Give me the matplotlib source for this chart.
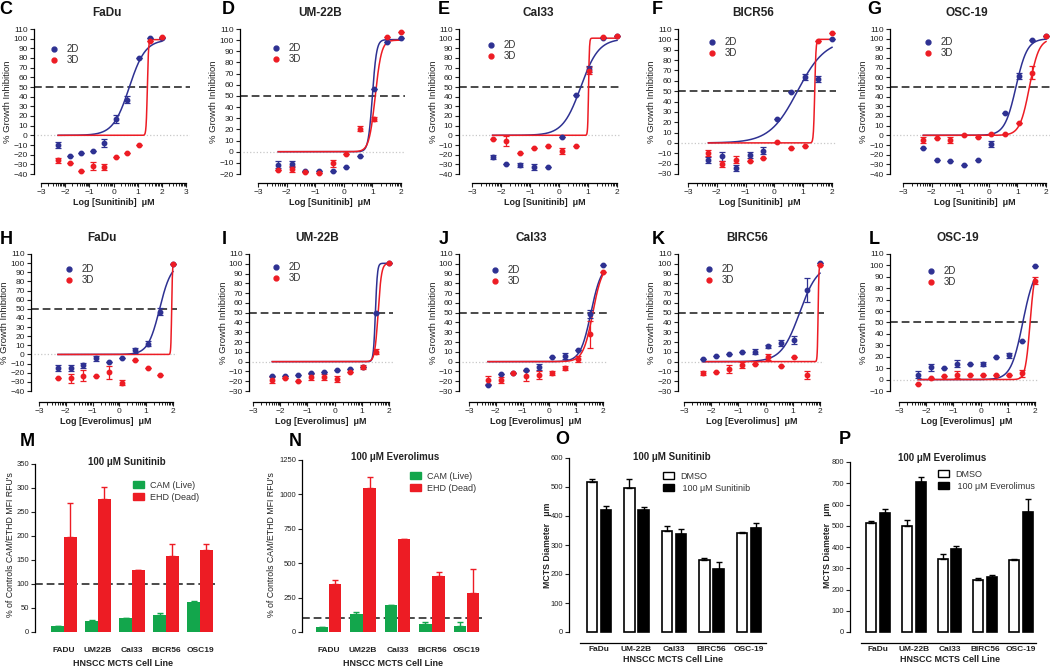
import numpy as np
import matplotlib
matplotlib.use("Agg")
import matplotlib.pyplot as plt
from matplotlib.lines import Line2D
from matplotlib.patches import Patch

plt.rcParams.update({"font.family": ["Liberation Sans", "DejaVu Sans"]})

W, H = 1050, 669
BLUE = "#2E3192"; RED = "#ED1C24"; GREEN = "#13A64C"; INK = "#222222"; DASH = "#4a4a4a"

# ---- dose-response data (log10 dose, uM) ----
LOG_DOSE = [-2.29, -1.82, -1.34, -0.86, -0.39, 0.09, 0.57, 1.05, 1.52, 2.0]

C_2D = [-10.3, -21.7, -18.6, -16.5, -7.6, 17, 37, 80, 101, 101]
C_2D_ERR = [3, 0, 0, 0, 4, 4, 4, 0, 0, 0]
C_3D = [-26, -29, -37, -32, -33, -22, -18, -10, 98, 102]
C_3D_ERR = [3, 0, 0, 4, 3, 0, 0, 0, 0, 0]

D_2D = [-11.7, -11, -17.7, -17.7, -17.7, -14.1, -3.6, 56.5, 98, 101.5]
D_2D_ERR = [3, 3, 0, 0, 0, 0, 0, 0, 0, 0]
D_3D = [-16.5, -15.6, -18.6, -18.9, -10.5, -2, 20.7, 29.4, 102.4, 107]
D_3D_ERR = [0, 3, 0, 0, 3, 0, 2, 2, 0, 0]

E_2D = [-22.6, -29.5, -30.9, -33, -32.3, -2, 41.3, 68.8, 101, 103]
E_2D_ERR = [2, 0, 2, 3, 0, 0, 0, 3, 0, 0]
E_3D = [-3.5, -6.2, -18, -13.2, -11.1, -16, -11.1, 67, 102, 103]
E_3D_ERR = [0, 5, 0, 0, 0, 3, 0, 4, 0, 0]

F_2D = [-16.5, -13, -24, -11.7, -7.4, 23, 49, 64, 61.5, 100]
F_2D_ERR = [3, 4, 3, 3, 3, 0, 0, 3, 3, 0]
F_3D = [-10, -20, -16, -17, -15, 1.3, -5, -3.2, 98, 106.5]
F_3D_ERR = [3, 3, 3, 0, 0, 0, 0, 0, 0, 0]

G_2D = [-13, -25, -27, -30.6, -25, -8.6, 23, 61.5, 98.6, 103]
G_2D_ERR = [0, 0, 0, 0, 0, 3, 0, 3, 0, 0]
G_3D = [-5, -2.4, -4.8, 0.7, -1.4, 1.7, 1.4, 12.4, 65, 102.4]
G_3D_ERR = [3, 0, 3, 0, 0, 0, 0, 0, 7, 0]

H_2D = [-14.8, -14.8, -11.8, -4.4, -8.5, -3.7, 4.4, 11.8, 47, 99]
H_2D_ERR = [3, 3, 3, 3, 0, 0, 3, 3, 4, 0]
H_3D = [-26.3, -26, -23.3, -23.3, -19.6, -30.7, -5.6, -14.8, -23, 99]
H_3D_ERR = [0, 5, 6, 0, 7, 3, 0, 0, 0, 0]

I_2D = [-15, -14.8, -14, -12, -10.7, -9, -7.2, -5.8, 50, 100.7]
I_2D_ERR = [0, 0, 0, 0, 0, 0, 0, 0, 0, 0]
I_3D = [-19, -17, -20, -16, -15.5, -18, -10.7, -5.8, 10.3, 100.3]
I_3D_ERR = [3, 0, 0, 3, 3, 3, 0, 2, 3, 0]

J_2D = [-23.7, -12.7, -11.7, -8.6, -5.2, 4.5, 5.5, 12, 49, 98.6]
J_2D_ERR = [0, 0, 0, 0, 3, 0, 3, 0, 4, 0]
J_3D = [-18.6, -18.6, -11.7, -15, -13.7, -12, -6.9, 3, 28, 91.4]
J_3D_ERR = [4, 3, 0, 5, 4, 2, 2, 3, 14, 0]

K_2D = [2.4, 5.5, 7.6, 10, 10.3, 15.5, 19, 22, 73, 100.7]
K_2D_ERR = [0, 0, 0, 0, 3, 2, 3, 4, 12, 0]
K_3D = [-11.3, -11, -7.6, -3.4, -2, 4.5, -4, 4.5, -13.7, 99]
K_3D_ERR = [2, 0, 4, 3, 0, 3, 0, 0, 4, 0]

L_2D = [4.4, 10.9, 10.3, 13.8, 13.8, 13.8, 19.6, 21.1, 33.4, 99.4]
L_2D_ERR = [3, 3, 0, 3, 0, 2, 0, 2, 0, 0]
L_3D = [-3.8, 1.2, 2.9, 4.4, 4.4, 4.4, 3.8, 3.8, 5.6, 86.5]
L_3D_ERR = [0, 0, 0, 3, 0, 0, 0, 0, 3, 3]

# fitted curve parameters: (logEC50, Hill slope, top)
FIT_2D = {"C": (0.65, 1.3, 99), "D": (1.0, 6, 100.5), "E": (0.75, 1.4, 100),
          "F": (0.8, 0.9, 100), "G": (0.95, 2.2, 100), "H": (1.5, 2.0, 100),
          "I": (1.5, 12, 100.5), "J": (1.55, 2.2, 100), "K": (1.25, 1.3, 100),
          "L": (1.55, 2.0, 100)}
FIT_3D = {"C": (1.4, 18, 99), "D": (1.1, 4, 100), "E": (1.02, 30, 100.5),
          "F": (1.4, 20, 100), "G": (1.42, 2.6, 100), "H": (1.95, 30, 100),
          "I": (1.6, 7, 100.5), "J": (1.62, 2.4, 100), "K": (1.93, 30, 100),
          "L": (1.82, 5, 100)}

# ---- bar chart data ----
LINES_MN = ["FADU", "UM22B", "Cal33", "BICR56", "OSC19"]
LINES_OP = ["FaDu", "UM-22B", "Cal33", "BIRC56", "OSC-19"]
M_CAM = [12, 23, 30, 35, 62]; M_CAM_ERR = [1, 1, 0, 5, 3]
M_EHD = [197, 278, 129, 159, 170]; M_EHD_ERR = [72, 24, 0, 25, 13]
N_CAM = [35, 130, 195, 55, 45]; N_CAM_ERR = [4, 12, 0, 15, 28]
N_EHD = [348, 1045, 675, 405, 280]; N_EHD_ERR = [32, 80, 0, 30, 175]
O_DMSO = [517, 497, 347, 247, 340]; O_DMSO_ERR = [10, 30, 18, 8, 4]
O_DRUG = [420, 420, 337, 216, 360]; O_DRUG_ERR = [13, 12, 18, 25, 17]
P_DMSO = [515, 497, 345, 247, 340]; P_DMSO_ERR = [8, 28, 20, 5, 3]
P_DRUG = [558, 705, 392, 258, 565]; P_DRUG_ERR = [22, 25, 13, 12, 60]

fig = plt.figure(figsize=(W / 100, H / 100), dpi=100)


def px_axes(left, right, top, bottom):
    return fig.add_axes([left / W, 1 - bottom / H, (right - left) / W, (bottom - top) / H])


def ftext(x, y, s, **kw):
    fig.text(x / W, 1 - y / H, s, **kw)


def hill(x, logec50, slope, top):
    return top / (1 + 10 ** ((logec50 - x) * slope))


def dr_panel(key, title, title_x, drug, spine, x0, x1, xmax, ytop, ybot, ymin, xaxis,
             y2d, e2d, y3d, e3d, leg_x, leg_y):
    ppx = (x1 - x0) / (xmax + 3)
    ppy = (ybot - ytop) / (110 - ymin)
    ax = px_axes(spine, x1 + 4, ytop - 4, xaxis)
    ax.set_xlim(-3 - (x0 - spine) / ppx, xmax + 4 / ppx)
    ax.set_ylim(ymin - (xaxis - ybot) / ppy, 110 + 4 / ppy)
    for s in ("top", "right"):
        ax.spines[s].set_visible(False)
    ax.spines["left"].set_bounds(ymin, 110)
    ax.spines["bottom"].set_bounds(-3, xmax)
    for s in ("left", "bottom"):
        ax.spines[s].set_linewidth(0.9)
    ax.set_yticks(np.arange(ymin, 111, 10))
    ax.set_xticks(np.arange(-3, xmax + 1, 1))
    minors = [k + np.log10(m) for k in range(-3, xmax) for m in range(2, 10)]
    ax.set_xticks(minors, minor=True)
    ax.tick_params(axis="both", which="major", direction="out", length=3, width=0.8,
                   labelsize=6, pad=1.5, colors=INK)
    ax.tick_params(axis="x", which="minor", direction="out", length=1.8, width=0.6)
    ax.axhline(50, color=DASH, ls=(0, (4, 2)), lw=1.4, zorder=1)
    ax.axhline(0, xmin=0.02, color="#c8c8c8", ls=":", lw=0.9, zorder=1)

    xs = np.linspace(LOG_DOSE[0], LOG_DOSE[-1], 500)
    ax.plot(xs, hill(xs, *FIT_2D[key]), color=BLUE, lw=1.1, zorder=3)
    ax.plot(xs, hill(xs, *FIT_3D[key]), color=RED, lw=1.1, zorder=4)
    for ys, es, c in ((y2d, e2d, BLUE), (y3d, e3d, RED)):
        ax.errorbar(LOG_DOSE, ys, yerr=es, fmt="o", ms=3.2, color=c, ecolor=c,
                    elinewidth=0.9, capsize=2, capthick=0.9, zorder=5)
    handles = [Line2D([], [], marker="o", ls="", color=BLUE, ms=3.5),
               Line2D([], [], marker="o", ls="", color=RED, ms=3.5)]
    ax.legend(handles, ["2D", "3D"], loc="upper left", frameon=False,
              bbox_to_anchor=(leg_x / W, 1 - leg_y / H), bbox_transform=fig.transFigure,
              fontsize=7, handlelength=0.8, handletextpad=0.9, labelspacing=0.15,
              borderpad=0, borderaxespad=0, labelcolor="#333333")

    ftext(title_x, ytop - 16, title, ha="center", va="center", fontsize=8.5,
          fontweight="bold", color=INK)
    ftext((x0 + x1) / 2, xaxis + 19, "Log [%s]  \u03bcM" % drug, ha="center",
          va="center", fontsize=6.5, fontweight="bold", color=INK)
    ftext(spine - 26, (ytop + ybot) / 2, "% Growth Inhibition", ha="center",
          va="center", rotation=90, fontsize=6.8, color=INK)
    return ax


# ---- top row: Sunitinib ----
TOP = dict(ytop=29, ybot=174, xaxis=183)
dr_panel("C", "FaDu", 107, "Sunitinib", 34, 41, 186, 3, ymin=-40, y2d=C_2D, e2d=C_2D_ERR,
         y3d=C_3D, e3d=C_3D_ERR, leg_x=50, leg_y=44, **TOP)
dr_panel("D", "UM-22B", 320, "Sunitinib", 240, 258, 401, 2, ymin=-20, y2d=D_2D,
         e2d=D_2D_ERR, y3d=D_3D, e3d=D_3D_ERR, leg_x=272, leg_y=43, **TOP)
dr_panel("E", "Cal33", 538, "Sunitinib", 459, 472, 617, 2, ymin=-40, y2d=E_2D,
         e2d=E_2D_ERR, y3d=E_3D, e3d=E_3D_ERR, leg_x=487, leg_y=40, **TOP)
dr_panel("F", "BICR56", 753, "Sunitinib", 678, 688, 832, 2, ymin=-30, y2d=F_2D,
         e2d=F_2D_ERR, y3d=F_3D, e3d=F_3D_ERR, leg_x=708, leg_y=37, **TOP)
dr_panel("G", "OSC-19", 967, "Sunitinib", 890, 903, 1046, 2, ymin=-40, y2d=G_2D,
         e2d=G_2D_ERR, y3d=G_3D, e3d=G_3D_ERR, leg_x=924, leg_y=37, **TOP)

# ---- middle row: Everolimus ----
MID = dict(ytop=254, ybot=391, xaxis=402)
dr_panel("H", "FaDu", 102, "Everolimus", 31, 39, 173, 2, ymin=-40, y2d=H_2D,
         e2d=H_2D_ERR, y3d=H_3D, e3d=H_3D_ERR, leg_x=65, leg_y=264, **MID)
dr_panel("I", "UM-22B", 317, "Everolimus", 249, 253, 389, 2, ymin=-30, y2d=I_2D,
         e2d=I_2D_ERR, y3d=I_3D, e3d=I_3D_ERR, leg_x=272, leg_y=262, **MID)
dr_panel("J", "Cal33", 531, "Everolimus", 459, 469, 603, 2, ymin=-30, y2d=J_2D,
         e2d=J_2D_ERR, y3d=J_3D, e3d=J_3D_ERR, leg_x=491, leg_y=265, **MID)
dr_panel("K", "BIRC56", 747, "Everolimus", 678, 684, 820, 2, ymin=-30, y2d=K_2D,
         e2d=K_2D_ERR, y3d=K_3D, e3d=K_3D_ERR, leg_x=705, leg_y=264, **MID)
dr_panel("L", "OSC-19", 958, "Everolimus", 890, 899, 1035, 2, ymin=-10, y2d=L_2D,
         e2d=L_2D_ERR, y3d=L_3D, e3d=L_3D_ERR, leg_x=927, leg_y=266, **MID)


# ---- bottom row: bar charts ----
def bar_panel(spine, c0, step, right, y0, ytopv, yt_px, xaxis, yticks, cats):
    ppy = (y0 - yt_px) / ytopv
    ax = px_axes(spine, right, yt_px - 3, xaxis)
    ax.set_xlim(-(c0 - spine) / step, (right - c0) / step)
    ax.set_ylim(-(xaxis - y0) / ppy, ytopv + 3 / ppy)
    for s in ("top", "right"):
        ax.spines[s].set_visible(False)
    ax.spines["left"].set_bounds(0, ytopv)
    ax.spines["left"].set_linewidth(0.9)
    ax.set_yticks(yticks)
    ax.set_xticks(range(len(cats)))
    ax.set_xticklabels(cats, fontweight="bold")
    ax.tick_params(axis="y", direction="out", length=3, width=0.8, labelsize=5.5, pad=1.2,
                   colors=INK)
    ax.tick_params(axis="x", length=0, labelsize=6, pad=4, colors=INK)
    return ax


x5 = np.arange(5)
EKW = dict(capsize=2.5, elinewidth=1, capthick=1)
LEG = dict(loc="upper left", bbox_transform=fig.transFigure, frameon=False, fontsize=6.5,
           handlelength=1.2, handleheight=0.8, handletextpad=0.7, labelspacing=0.3,
           borderpad=0, borderaxespad=0, labelcolor="#333333")

# M
axM = bar_panel(35, 64, 34, 215, 632, 350, 464, 641, range(0, 351, 50), LINES_MN)
axM.spines["bottom"].set_visible(False)
axM.axhline(100, color=DASH, ls=(0, (4, 2)), lw=1.4, zorder=0)
axM.bar(x5 - 0.19, M_CAM, 0.36, yerr=[[0] * 5, M_CAM_ERR], color=GREEN, ecolor=GREEN,
        error_kw=EKW, zorder=2)
axM.bar(x5 + 0.19, M_EHD, 0.36, yerr=[[0] * 5, M_EHD_ERR], color=RED, ecolor=RED,
        error_kw=EKW, zorder=2)
axM.legend([Patch(color=GREEN), Patch(color=RED)], ["CAM (Live)", "EHD (Dead)"],
           bbox_to_anchor=(133 / W, 1 - 481 / H), **LEG)

# N
axN = bar_panel(302, 328.5, 34.5, 482, 632, 1250, 460, 641, range(0, 1251, 250), LINES_MN)
axN.spines["bottom"].set_visible(False)
axN.axhline(100, color=DASH, ls=(0, (4, 2)), lw=1.4, zorder=0)
axN.bar(x5 - 0.19, N_CAM, 0.36, yerr=[[0] * 5, N_CAM_ERR], color=GREEN, ecolor=GREEN,
        error_kw=EKW, zorder=2)
axN.bar(x5 + 0.19, N_EHD, 0.36, yerr=[[0] * 5, N_EHD_ERR], color=RED, ecolor=RED,
        error_kw=EKW, zorder=2)
axN.legend([Patch(color=GREEN), Patch(color=RED)], ["CAM (Live)", "EHD (Dead)"],
           bbox_to_anchor=(410 / W, 1 - 472 / H), **LEG)

# O and P
for (spine, c0, step, right, ytopv, yt_px, yticks, dmso, dmso_e, drug, drug_e, dname, lx,
     ly) in (
        (569, 599, 37.5, 770, 600, 458, range(0, 601, 100), O_DMSO, O_DMSO_ERR, O_DRUG,
         O_DRUG_ERR, "Sunitinib", 663, 472),
        (850, 878, 35.75, 1040, 800, 462, range(0, 801, 100), P_DMSO, P_DMSO_ERR, P_DRUG,
         P_DRUG_ERR, "Everolimus", 938, 470)):
    ax = bar_panel(spine, c0, step, right, 632, ytopv, yt_px, 643, yticks, LINES_OP)
    ax.spines["bottom"].set_bounds(-(c0 - spine - 11) / step, (right - 4 - c0) / step)
    ax.spines["bottom"].set_linewidth(0.9)
    ax.tick_params(axis="x", pad=2)
    ax.bar(x5 - 0.19, dmso, 0.28, yerr=[[0] * 5, dmso_e], color="white", edgecolor="black",
           linewidth=1.2, ecolor="black", error_kw=EKW, zorder=2)
    ax.bar(x5 + 0.19, drug, 0.28, yerr=[[0] * 5, drug_e], color="black", edgecolor="black",
           linewidth=1.2, ecolor="black", error_kw=EKW, zorder=2)
    ax.legend([Patch(facecolor="white", edgecolor="black", linewidth=1),
               Patch(facecolor="black", edgecolor="black")],
              ["DMSO", " 100 \u03bcM " + dname], bbox_to_anchor=(lx / W, 1 - ly / H), **LEG)

# bar panel titles and labels
for x, y, s in ((127, 462, "100 \u03bcM Sunitinib"), (395, 457, "100 \u03bcM Everolimus"),
                (672, 457, "100 \u03bcM Sunitinib"), (942, 458, "100 \u03bcM Everolimus")):
    ftext(x, y, s, ha="center", va="center", fontsize=7, fontweight="bold", color=INK)
for x, y in ((123, 664), (393, 664), (673, 659), (950, 659)):
    ftext(x, y, "HNSCC MCTS Cell Line", ha="center", va="center", fontsize=6.5,
          fontweight="bold", color=INK)
for x in (11, 272):
    ftext(x, 545, "% of Controls CAM/ETHD MFI RFU's", ha="center", va="center",
          rotation=90, fontsize=6.3, color=INK)
for x in (547, 827):
    ftext(x, 545, "MCTS Diameter   \u03bcm", ha="center", va="center", rotation=90,
          fontsize=6.3, fontweight="bold", color=INK)

# panel letters
for x, y, s in ((6, 9, "C"), (228, 10, "D"), (444, 10, "E"), (657, 10, "F"), (874, 10, "G"),
                (6, 239, "H"), (224, 239, "I"), (444, 239, "J"), (658, 239, "K"),
                (874, 239, "L"), (27, 441, "M"), (295, 441, "N"), (562, 439, "O"),
                (845, 439, "P")):
    ftext(x, y, s, ha="center", va="center", fontsize=13, fontweight="bold", color="black")

fig.savefig("out.png", dpi=100)
